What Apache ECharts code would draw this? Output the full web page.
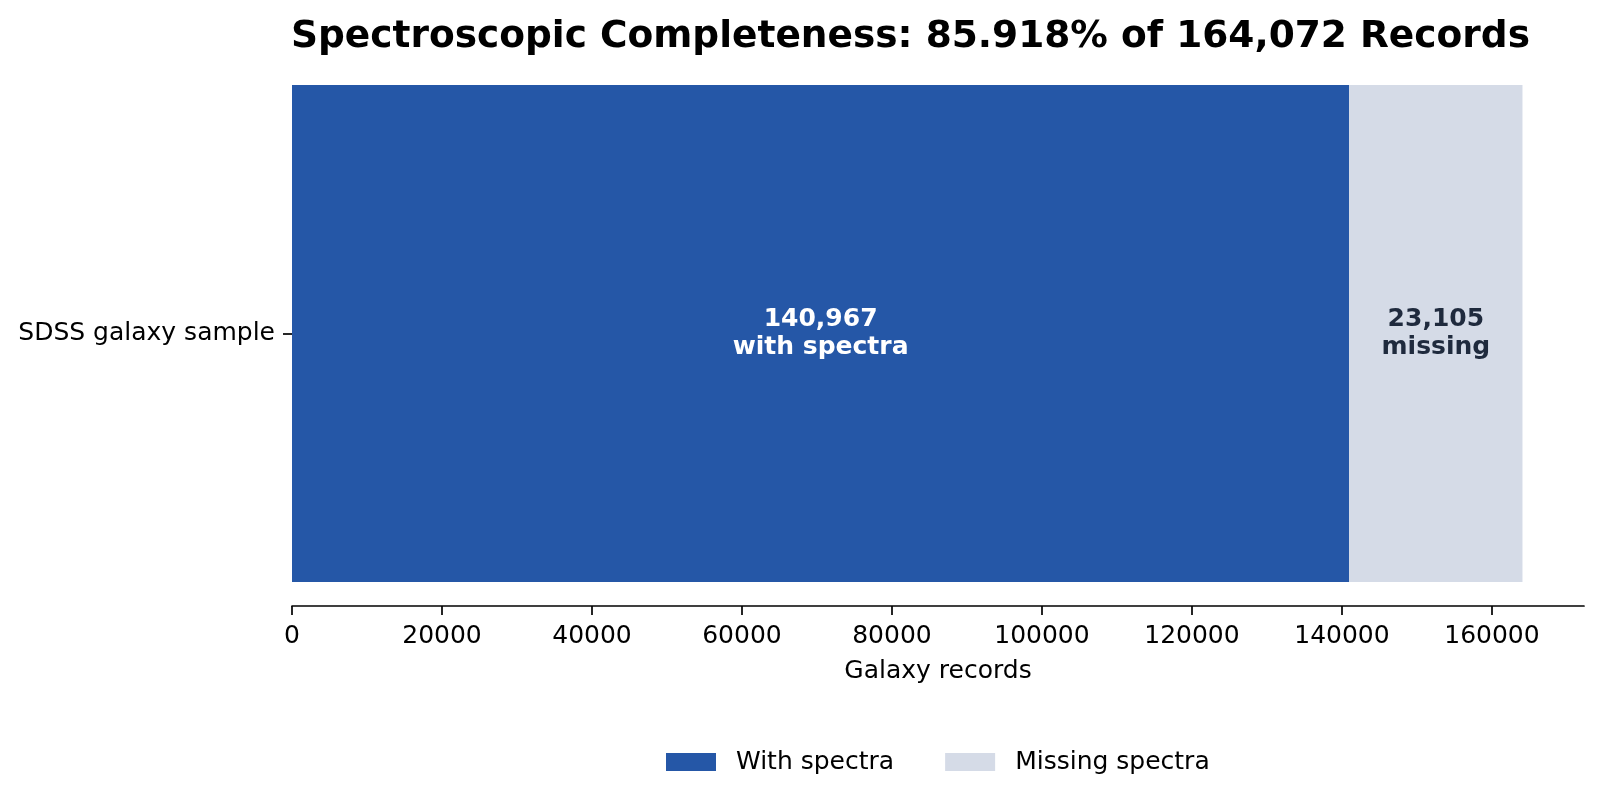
<!DOCTYPE html>
<html>
<head>
<meta charset="utf-8">
<title>Spectroscopic Completeness</title>
<script src="https://cdn.jsdelivr.net/npm/echarts@6/dist/echarts.min.js"></script>
<style>
  html, body { margin: 0; padding: 0; background: #ffffff; }
  #chart { width: 1601px; height: 803px; }
</style>
</head>
<body>
<div id="chart"></div>
<script>
// data
var categories = ['SDSS galaxy sample'];
var seriesNames = ['With spectra', 'Missing spectra'];
var withSpectra = [140967];
var missingSpectra = [23105];
var labelSuffix = ['with spectra', 'missing'];
var xTicks = [0, 20000, 40000, 60000, 80000, 100000, 120000, 140000, 160000];

var BLUE = '#2557a7';
var GRAY = '#d5dbe7';
var FONT = 'DejaVu Sans';

var total = withSpectra[0] + missingSpectra[0];
var pct = (withSpectra[0] / total * 100).toFixed(3);

var chart = echarts.init(document.getElementById('chart'));

function fmt(n) {
    return n.toLocaleString('en-US');
}

var option = {
    backgroundColor: '#ffffff',
    animation: false,
    textStyle: { fontFamily: FONT },
    title: {
        text: 'Spectroscopic Completeness: ' + pct + '% of ' + fmt(total) + ' Records',
        left: 291,
        top: 18,
        padding: 0,
        textStyle: { fontFamily: FONT, fontSize: 37.5, fontWeight: 'bold', color: '#000000' }
    },
    legend: {
        data: seriesNames,
        left: 666,
        top: 749.5,
        padding: 0,
        itemWidth: 50,
        itemHeight: 18,
        itemGap: 51,
        icon: 'rect',
        textStyle: { fontFamily: FONT, fontSize: 25, color: '#000000', padding: [0, 0, 0, 15] }
    },
    grid: {
        left: 292,
        right: 17,
        top: 61,
        bottom: 197
    },
    xAxis: {
        type: 'value',
        min: 0,
        max: total * 1.05,
        name: 'Galaxy records',
        nameLocation: 'middle',
        nameGap: 53,
        nameTextStyle: { fontFamily: FONT, fontSize: 25, color: '#000000' },
        splitLine: { show: false },
        axisLine: { show: true, lineStyle: { color: '#000000', width: 1.7 } },
        axisTick: {
            show: true,
            length: 9,
            customValues: xTicks,
            lineStyle: { color: '#000000', width: 1.7 }
        },
        axisLabel: {
            customValues: xTicks,
            margin: 18,
            fontFamily: FONT,
            fontSize: 25,
            color: '#000000',
            formatter: function (v) { return String(v); }
        }
    },
    yAxis: {
        type: 'category',
        data: categories,
        axisLine: { show: false },
        axisTick: {
            show: true,
            alignWithLabel: true,
            length: 9,
            lineStyle: { color: '#000000', width: 1.7 }
        },
        axisLabel: {
            margin: 17,
            fontFamily: FONT,
            fontSize: 25,
            color: '#000000'
        },
        splitLine: { show: false }
    },
    series: [
        {
            name: seriesNames[0],
            type: 'bar',
            stack: 'records',
            barWidth: 497,
            data: withSpectra,
            itemStyle: { color: BLUE },
            label: {
                show: true,
                position: 'inside',
                fontFamily: FONT,
                fontSize: 25,
                fontWeight: 'bold',
                lineHeight: 28,
                color: '#ffffff',
                formatter: function (p) { return fmt(p.value) + '\n' + labelSuffix[0]; }
            }
        },
        {
            name: seriesNames[1],
            type: 'bar',
            stack: 'records',
            barWidth: 497,
            data: missingSpectra,
            itemStyle: { color: GRAY },
            label: {
                show: true,
                position: 'inside',
                fontFamily: FONT,
                fontSize: 25,
                fontWeight: 'bold',
                lineHeight: 28,
                color: '#1f2a3d',
                formatter: function (p) { return fmt(p.value) + '\n' + labelSuffix[1]; }
            }
        }
    ]
};

chart.setOption(option);
</script>
</body>
</html>
